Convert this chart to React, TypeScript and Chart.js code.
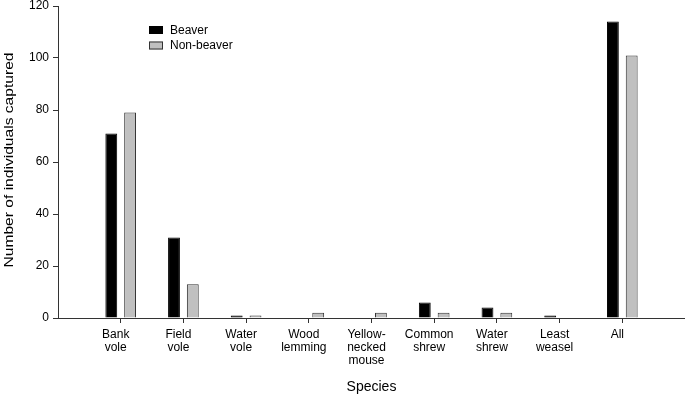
import React, { useEffect, useRef } from "react";
import { Chart, registerables } from "chart.js";

Chart.register(...registerables);

const categories: (string | string[])[] = [
  "",
  ["Bank", "vole"],
  ["Field", "vole"],
  ["Water", "vole"],
  ["Wood", "lemming"],
  ["Yellow-", "necked", "mouse"],
  ["Common", "shrew"],
  ["Water", "shrew"],
  ["Least", "weasel"],
  ["All"],
  "",
];
const beaver: (number | null)[] = [null, 71, 31, 1, 0, 0, 6, 4, 1, 114, null];
const nonBeaver: (number | null)[] = [null, 79, 13, 1, 2, 2, 2, 2, 0, 101, null];
const yTicks = [0, 20, 40, 60, 80, 100, 120];
const yTitle = "Number of individuals captured";
const xTitle = "Species";

const FONT = "'Liberation Sans', Arial, sans-serif";
const AXIS = "#333333";

const legendPlugin = {
  id: "innerLegend",
  afterDraw(chart: any) {
    const ctx = chart.ctx;
    ctx.save();
    chart.data.datasets.forEach((ds: any, i: number) => {
      const y = 26 + i * 15.5;
      ctx.fillStyle = ds.backgroundColor;
      ctx.fillRect(149, y, 14, 8);
      ctx.strokeStyle = ds.borderColor;
      ctx.lineWidth = 1;
      ctx.strokeRect(149.5, y + 0.5, 13, 7);
      ctx.fillStyle = "#000";
      ctx.font = `12px ${FONT}`;
      ctx.textBaseline = "middle";
      ctx.textAlign = "left";
      ctx.fillText(ds.label, 170, y + 4.5);
    });
    // y axis title (stretched along its length like the reference)
    ctx.translate(9.5, 160);
    ctx.rotate(-Math.PI / 2);
    ctx.scale(1.2, 1);
    ctx.font = `13px ${FONT}`;
    ctx.textAlign = "center";
    ctx.textBaseline = "middle";
    ctx.fillStyle = "#000";
    ctx.fillText(yTitle, 0, 0);
    ctx.restore();
  },
};

export default function App() {
  const ref = useRef<HTMLCanvasElement | null>(null);
  useEffect(() => {
    if (!ref.current) return;
    const chart = new Chart(ref.current, {
      type: "bar",
      data: {
        labels: categories as any,
        datasets: [
          {
            label: "Beaver",
            data: beaver,
            backgroundColor: "#000000",
            borderColor: "#000000",
            borderWidth: 1,
            categoryPercentage: 0.6,
            barPercentage: 0.63,
          },
          {
            label: "Non-beaver",
            data: nonBeaver,
            backgroundColor: "#c0c0c0",
            borderColor: "#333333",
            borderWidth: 1,
            categoryPercentage: 0.6,
            barPercentage: 0.63,
          },
        ],
      },
      options: {
        animation: false,
        responsive: false,
        maintainAspectRatio: false,
        layout: { padding: { top: 6, right: 0, left: 0, bottom: 0 } },
        plugins: {
          legend: { display: false },
          tooltip: { enabled: false },
        },
        scales: {
          x: {
            type: "category",
            offset: false,
            grid: {
              display: true,
              offset: false,
              drawOnChartArea: false,
              drawTicks: true,
              tickLength: 5,
              tickColor: (c: any) =>
                c.index === 0 || c.index === categories.length - 1 ? "rgba(0,0,0,0)" : AXIS,
            },
            border: { display: true, color: AXIS, width: 1 },
            ticks: {
              color: "#000",
              font: { family: FONT, size: 12, lineHeight: 1.1 },
              padding: 5,
              labelOffset: -5,
              maxRotation: 0,
              minRotation: 0,
              autoSkip: false,
            },
            title: {
              display: true,
              text: xTitle,
              color: "#000",
              font: { family: FONT, size: 14 },
              padding: { top: 0, bottom: 6 },
            },
            afterFit: (s: any) => {
              s.height = 84;
              s.paddingLeft = 0;
              s.paddingRight = 0;
            },
          },
          y: {
            min: 0,
            max: 120,
            afterBuildTicks: (s: any) => {
              s.ticks = yTicks.map((v) => ({ value: v }));
            },
            grid: {
              display: true,
              drawOnChartArea: false,
              drawTicks: true,
              tickLength: 5,
              tickColor: AXIS,
            },
            border: { display: true, color: AXIS, width: 1 },
            ticks: {
              color: "#000",
              font: { family: FONT, size: 12 },
              padding: 4,
            },
            title: { display: false },
            afterFit: (s: any) => {
              s.width = 58;
              s.paddingTop = 0;
              s.paddingBottom = 0;
            },
          },
        },
      },
      plugins: [legendPlugin],
    });
    return () => chart.destroy();
  }, []);
  return (
    <div style={{ position: "fixed", left: 0, top: 0, width: 685, height: 402, background: "#fff" }}>
      <canvas ref={ref} width={685} height={402} style={{ width: 685, height: 402, display: "block" }} />
    </div>
  );
}
